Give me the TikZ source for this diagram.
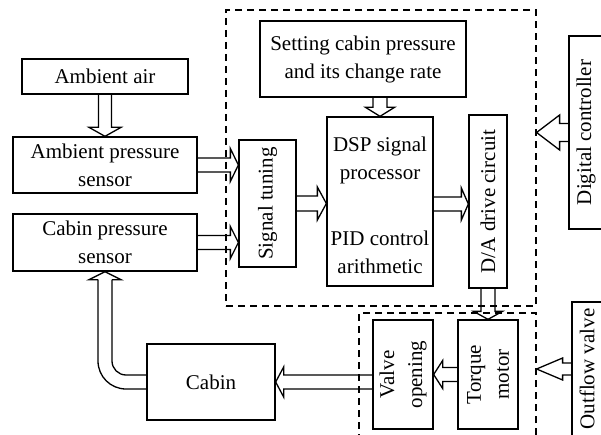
\documentclass[tikz,border=0pt]{standalone}
\usepackage{fontspec}
\setmainfont{Liberation Serif}
\usetikzlibrary{calc}
\tikzset{
  box/.style={draw, line width=1.3pt, inner sep=0pt, align=center, font=\fontsize{21}{28}\selectfont},
  txt/.style={inner sep=0pt, align=center, font=\fontsize{21}{28}\selectfont},
  dbox/.style={draw, line width=1.2pt, dash pattern=on 7pt off 5pt, inner sep=0pt},
  hollow/.style={line width=1.3pt, line join=miter}
}
\newcommand\hollowarr[5]{%
  \coordinate (hbase) at ($(#2)!#5pt!(#1)$);
  \draw[hollow] ($(#1)!#3pt!90:(#2)$) -- ($(hbase)!#3pt!90:(#2)$) -- ($(hbase)!#4pt!90:(#2)$) -- (#2)
    -- ($(hbase)!#4pt!-90:(#2)$) -- ($(hbase)!#3pt!-90:(#2)$) -- ($(#1)!#3pt!-90:(#2)$);
}
\begin{document}
\begin{tikzpicture}[x=1pt,y=-1pt]
\useasboundingbox (0,0) rectangle (601,435);
% dashed groups
\node[dbox, minimum width=310pt, minimum height=296pt] (ctrl) at (381,158) {};
\node[dbox, minimum width=177pt, minimum height=137pt] (ovb) at (447.5,381.5) {};
% boxes
\node[box, minimum width=166pt, minimum height=35pt] (amb) at (105,76.5) {Ambient air};
\node[box, minimum width=184pt, minimum height=56pt] (aps) at (105,165) {Ambient pressure\\sensor};
\node[box, minimum width=184pt, minimum height=57pt] (cps) at (105,242.5) {Cabin pressure\\sensor};
\node[box, minimum width=206pt, minimum height=76pt] (set) at (363,59) {Setting cabin pressure\\and its change rate};
\node[box, minimum width=57pt, minimum height=127pt] (sig) at (267.5,203.5) {};
\node[txt, rotate=90] at (sig.center) {Signal tuning};
\node[box, minimum width=106pt, minimum height=169pt] (dsp) at (380,201.5) {};
\node[txt] (dsp1) at (380,160) {DSP signal\\processor};
\node[txt] (dsp2) at (380,252) {PID control\\arithmetic};
\node[box, minimum width=38pt, minimum height=173pt] (da) at (488,201.5) {};
\node[txt, rotate=90] at (da.center) {D/A drive circuit};
\node[box, minimum width=34pt, minimum height=193pt] (dc) at (586,132.5) {};
\node[txt, rotate=90] at (dc.center) {Digital controller};
\node[box, minimum width=128pt, minimum height=76pt] (cabin) at (211,382) {Cabin};
\node[box, minimum width=60pt, minimum height=109pt] (vo) at (403,374.5) {};
\node[txt, rotate=90] at (vo.center) {Valve\\opening};
\node[box, minimum width=60pt, minimum height=109pt] (tm) at (488,374.5) {};
\node[txt, rotate=90] at (tm.center) {Torque\\motor};
\node[box, minimum width=30pt, minimum height=134pt] (ov) at (587,369) {};
\node[txt, rotate=90] at (ov.center) {Outflow valve};
% hollow arrows
\hollowarr{amb.south}{aps.north}{6.5}{16}{9}
\coordinate (t1) at (sig.west |- aps.east);
\hollowarr{aps.east}{t1}{7}{16.5}{8}
\coordinate (t2) at (sig.west |- cps.east);
\hollowarr{cps.east}{t2}{7}{16}{8}
\coordinate (t3) at (dsp.west |- sig.east);
\hollowarr{sig.east}{t3}{7.5}{16.5}{9}
\coordinate (s4) at ($(dsp.east)+(0,2.5)$);
\coordinate (t4) at ($(da.west)+(0,2.5)$);
\hollowarr{s4}{t4}{7}{16}{7}
\coordinate (s5) at (set.south -| dsp.north);
\hollowarr{s5}{dsp.north}{7}{14.5}{9}
\hollowarr{da.south}{tm.north}{7}{14.5}{8}
\hollowarr{tm.west}{vo.east}{7}{14}{9}
\coordinate (s6) at (vo.west |- cabin.east);
\hollowarr{s6}{cabin.east}{7}{15}{8}
\coordinate (t7) at (ctrl.east |- dc.west);
\hollowarr{dc.west}{t7}{9}{17.5}{23}
\coordinate (t8) at (ovb.east |- ov.west);
\hollowarr{ov.west}{t8}{6}{11}{26}
% curved arrow cabin -> cabin pressure sensor
\draw[hollow, rounded corners=14pt] ($(cabin.west)+(0,-7)$) -| ($(cps.south)+(7,8)$);
\draw[hollow] ($(cps.south)+(7,8)$) -- ($(cps.south)+(16,8)$) -- (cps.south) -- ($(cps.south)+(-16,8)$) -- ($(cps.south)+(-7,8)$);
\draw[hollow, rounded corners=28pt] ($(cps.south)+(-7,8)$) |- ($(cabin.west)+(0,7)$);
\end{tikzpicture}
\end{document}
